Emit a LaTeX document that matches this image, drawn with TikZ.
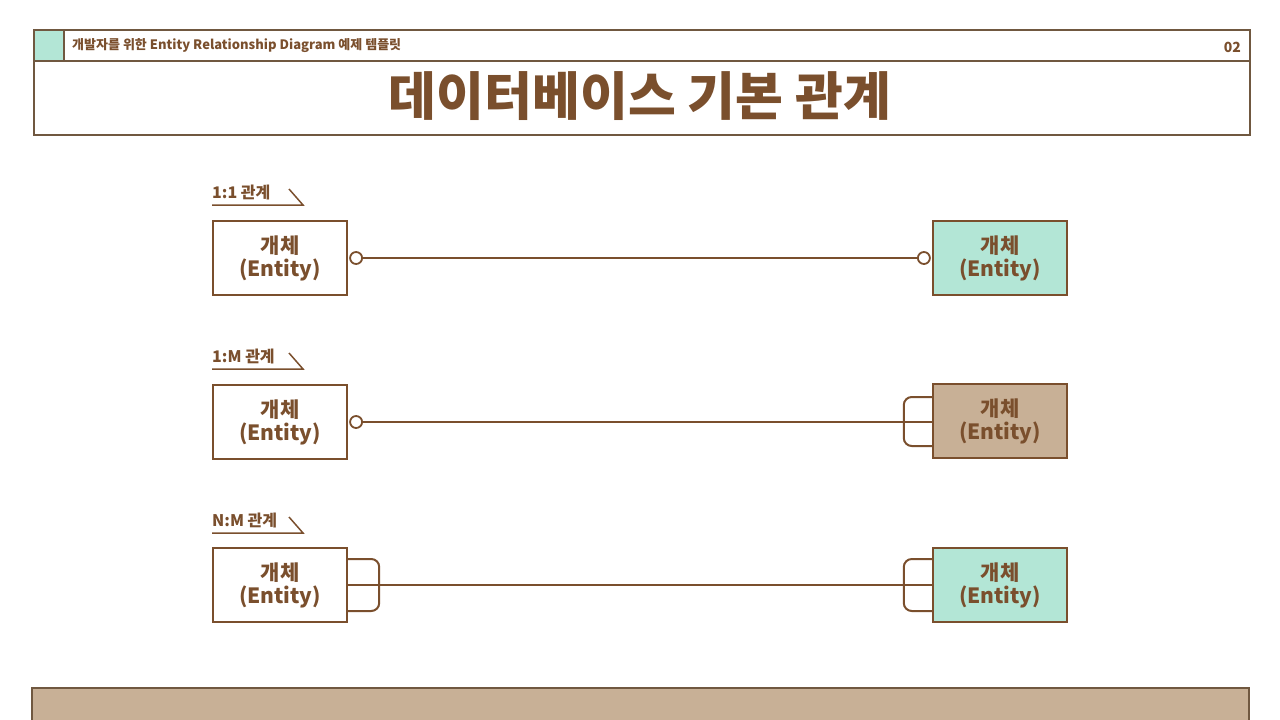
\documentclass[tikz,border=0pt]{standalone}
\usepackage{fontspec}
\setmainfont{Noto Sans CJK KR}
\usetikzlibrary{positioning}
\definecolor{brn}{RGB}{122,79,45}
\definecolor{hdr}{RGB}{112,88,64}
\definecolor{tealf}{RGB}{179,230,214}
\definecolor{tanf}{RGB}{200,176,150}
\tikzset{
  ent/.style={draw=brn,line width=2.4pt,minimum width=134pt,minimum height=74pt,inner sep=0pt,
    align=center,text=brn,font=\bfseries\fontsize{21}{23}\selectfont},
  conn/.style={draw=brn,line width=2pt},
  ring/.style={circle,draw=brn,fill=white,line width=1.8pt,minimum size=12pt,inner sep=0pt},
  crow/.style={draw=brn,line width=2pt,rounded corners=8pt},
  rlabel/.style={anchor=base west,text=brn,font=\bfseries\fontsize{16}{18}\selectfont,inner sep=0pt},
  uline/.style={draw=brn,line width=1.5pt}
}
\begin{document}
\begin{tikzpicture}[x=1pt,y=-1pt]
\useasboundingbox (0,0) rectangle (1280,720);
\fill[white] (0,0) rectangle (1280,720);
% header
\draw[hdr,line width=1.8pt] (34,30) rectangle (1250,61);
\fill[tealf] (35,31) rectangle (64,60);
\draw[hdr,line width=1.8pt] (64,30) -- (64,61);
\node[anchor=west,text=brn,font=\bfseries\fontsize{13}{15}\selectfont,inner sep=0pt] (sub) at (72,46) {개발자를 위한 Entity Relationship Diagram 예제 템플릿};
\node[anchor=east,text=brn,font=\bfseries\fontsize{14}{16}\selectfont,inner sep=0pt] (pg) at (1241,47) {02};
\draw[hdr,line width=1.8pt] (34,61) rectangle (1250,135);
\node[text=brn,font=\bfseries\fontsize{52}{56}\selectfont,inner sep=0pt] (title) at (640,96) {데이터베이스 기본 관계};
% bottom bar
\fill[tanf] (32,688) rectangle (1249,722);
\draw[hdr,line width=1.5pt] (32,722) -- (32,688) -- (1249,688) -- (1249,722);
% row labels
\node[rlabel] (lab1) at (212,198) {1:1 관계};
\coordinate (u1a) at (212,205); \coordinate (u1b) at (303,205); \coordinate (u1c) at (289,189);
\draw[uline] (u1a) -- (u1b) -- (u1c);
\node[rlabel] (lab2) at (212,362) {1:M 관계};
\coordinate (u2a) at (212,369); \coordinate (u2b) at (303,369); \coordinate (u2c) at (289,353);
\draw[uline] (u2a) -- (u2b) -- (u2c);
\node[rlabel] (lab3) at (212,526) {N:M 관계};
\coordinate (u3a) at (212,533); \coordinate (u3b) at (303,533); \coordinate (u3c) at (289,517);
\draw[uline] (u3a) -- (u3b) -- (u3c);
% entities
\node[ent,fill=white] (l1) at (280,258) {개체\\(Entity)};
\node[ent,fill=tealf] (r1) at (1000,258) {개체\\(Entity)};
\node[ent,fill=white] (l2) at (280,422) {개체\\(Entity)};
\node[ent,fill=tanf] (r2) at (1000,421) {개체\\(Entity)};
\node[ent,fill=white] (l3) at (280,585) {개체\\(Entity)};
\node[ent,fill=tealf] (r3) at (1000,585) {개체\\(Entity)};
% row 1
\node[ring,right=1pt of l1.east] (c1a) {};
\node[ring,left=1pt of r1.west] (c1b) {};
\draw[conn] (c1a) -- (c1b);
% row 2
\node[ring,right=1pt of l2.east] (c2a) {};
\draw[conn] (c2a) -- (r2.west |- c2a);
\draw[crow] ([yshift=24pt]r2.west) -- ++(-28,0) -- ++(0,49) -- ++(28,0);
% row 3
\draw[conn] (l3.east) -- (r3.west);
\draw[crow] ([yshift=26pt]l3.east) -- ++(31,0) -- ++(0,52) -- ++(-31,0);
\draw[crow] ([yshift=26pt]r3.west) -- ++(-28,0) -- ++(0,52) -- ++(28,0);
\end{tikzpicture}
\end{document}
